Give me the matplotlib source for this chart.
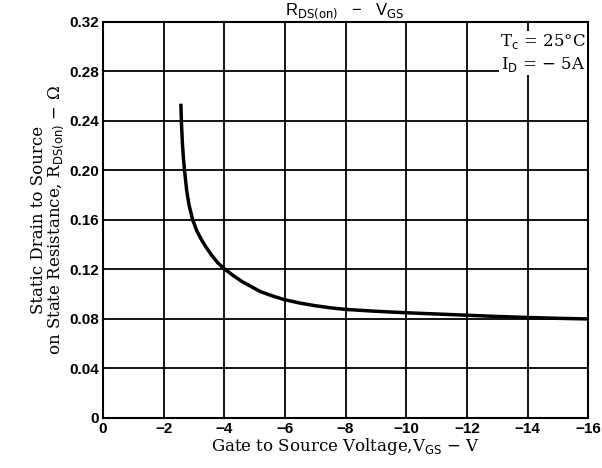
import matplotlib
matplotlib.use("Agg")
import matplotlib.pyplot as plt

vgs = [-2.57, -2.59, -2.62, -2.66, -2.70, -2.76, -2.84, -2.96, -3.10, -3.25, -3.40, -3.60, -3.80, -4.03,
       -4.30, -4.60, -4.90, -5.20, -5.60, -6.00, -6.50, -7.00, -7.50, -8.00, -9.0, -10.0, -11.0, -12.0,
       -13.0, -14.0, -15.0, -16.0]
rds = [0.254, 0.238, 0.222, 0.208, 0.198, 0.184, 0.172, 0.160, 0.151, 0.144, 0.138, 0.131, 0.125, 0.120,
       0.115, 0.110, 0.106, 0.102, 0.0985, 0.0955, 0.0928, 0.0907, 0.0890, 0.0877, 0.0862, 0.0850, 0.0840,
       0.0830, 0.0820, 0.0812, 0.0805, 0.0800]
xticks = [0, -2, -4, -6, -8, -10, -12, -14, -16]
xticklabels = ["0", "−2", "−4", "−6", "−8", "−10", "−12", "−14", "−16"]
yticks = [0, 0.04, 0.08, 0.12, 0.16, 0.20, 0.24, 0.28, 0.32]
yticklabels = ["0", "0.04", "0.08", "0.12", "0.16", "0.20", "0.24", "0.28", "0.32"]

serif = ["DejaVu Serif"]
fig = plt.figure(figsize=(6.02, 4.68), dpi=100)
ax = fig.add_axes([0.171, 0.107, 0.806, 0.846])
ax.set_xlim(0, -16)
ax.set_ylim(0, 0.32)
ax.set_xticks(xticks)
ax.set_xticklabels(xticklabels, fontsize=11, fontweight="bold", family="Liberation Sans")
ax.set_yticks(yticks)
ax.set_yticklabels(yticklabels, fontsize=11, fontweight="bold", family="Liberation Sans")
ax.tick_params(length=0, pad=3)
ax.grid(True, color="black", linewidth=1.3)
for s in ax.spines.values():
    s.set_linewidth(1.5)
ax.plot(vgs, rds, color="black", linewidth=2.5, solid_capstyle="butt")

ax.set_xlabel(r"Gate to Source Voltage,V$_{\mathrm{GS}}$ − V", fontsize=12, family=serif, labelpad=0)
ax.set_ylabel("Static Drain to Source\n" + r"on State Resistance, R$_{\mathrm{DS(on)}}$ − Ω",
              fontsize=12, family=serif, labelpad=2, linespacing=1.0)
fig.text(0.573, 0.977, r"R$_{\mathrm{DS(on)}}$   −   V$_{\mathrm{GS}}$", ha="center", va="center",
         fontsize=12, family="Liberation Sans")
ax.text(0.995, 0.975, "T$_\\mathrm{c}$ = 25°C\nI$_\\mathrm{D}$ = − 5A", transform=ax.transAxes,
        ha="right", va="top", fontsize=12, family=serif, linespacing=1.3,
        bbox=dict(facecolor="white", edgecolor="none", pad=1))
fig.savefig("out.png", dpi=100)
